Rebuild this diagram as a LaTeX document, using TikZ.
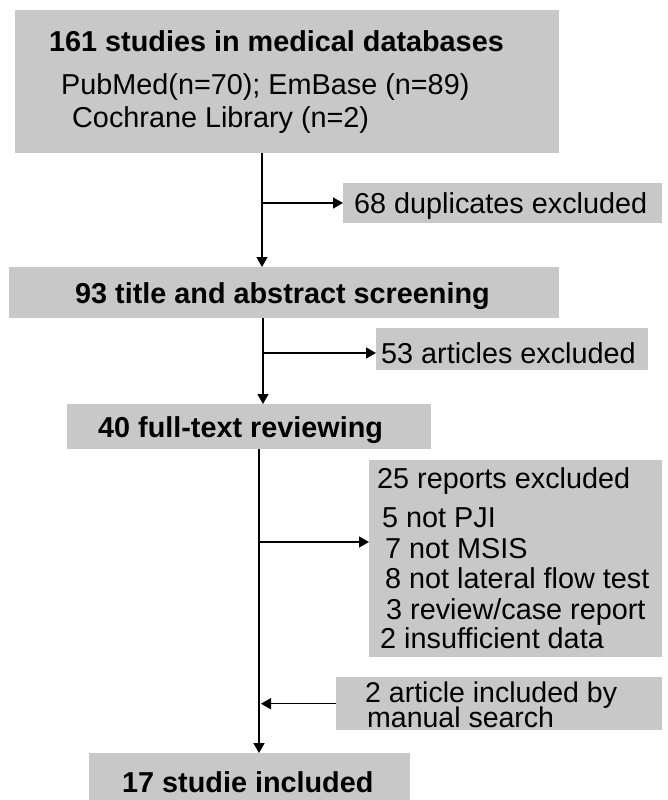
\documentclass[tikz,border=0pt]{standalone}
\usepackage{fontspec}
\setmainfont{Liberation Sans}
\usetikzlibrary{arrows.meta}
\definecolor{boxgray}{RGB}{200,200,200}
\tikzset{
  box/.style={fill=boxgray, draw=none, rectangle, inner sep=0pt, anchor=north west},
  txt/.style={inner sep=0pt, anchor=base west, font=\fontsize{28.8}{34}\selectfont},
  btxt/.style={txt, font=\fontsize{28.8}{34}\selectfont\bfseries},
  tight/.style={txt, font=\fontsize{28.5}{25}\selectfont, text height=19pt, text depth=4pt},
  arr/.style={line width=1.5pt, -{Triangle[length=10pt,width=11pt]}},
  ln/.style={line width=1.5pt}
}
\begin{document}
\begin{tikzpicture}[x=1pt,y=-1pt]
\useasboundingbox (0,0) rectangle (668,800);
% boxes
\node[box, minimum width=544pt, minimum height=143pt] (b1) at (15,10) {};
\node[box, minimum width=319pt, minimum height=40pt] (dup) at (343,183) {};
\node[box, minimum width=550pt, minimum height=51pt] (b2) at (9,267) {};
\node[box, minimum width=272pt, minimum height=42pt] (art) at (376,328) {};
\node[box, minimum width=364pt, minimum height=45pt] (b3) at (67,404) {};
\node[box, minimum width=293pt, minimum height=197pt] (rep) at (369,460) {};
\node[box, minimum width=326pt, minimum height=53pt] (man) at (336,677) {};
\node[box, minimum width=321pt, minimum height=50pt] (b4) at (89,753) {};
% texts
\node[btxt] (t1a) at (49,52) {161 studies in medical databases};
\node[txt] (t1b) at (61,94) {PubMed(n=70); EmBase (n=89)};
\node[txt] (t1c) at (72,127) {Cochrane Library (n=2)};
\node[txt] (tdup) at (354,213) {68 duplicates excluded};
\node[btxt] (t2) at (75,303) {93 title and abstract screening};
\node[txt] (tart) at (381,363) {53 articles excluded};
\node[btxt] (t3) at (98,437) {40 full-text reviewing};
\node[txt] (tr1) at (377,488) {25 reports excluded};
\node[txt] (tr2) at (382,527) {5 not PJI};
\node[txt] (tr3) at (385,558) {7 not MSIS};
\node[txt] (tr4) at (385,588) {8 not lateral flow test};
\node[txt] (tr5) at (386,619) {3 review/case report};
\node[txt] (tr6) at (380,648) {2 insufficient data};
\node[tight] (tm1) at (365,702) {2 article included by};
\node[tight, text depth=2pt] (tm2) at (367,727) {manual search};
\node[btxt] (t4) at (122,792) {17 studie included};
% connector columns and branch points
\coordinate (c1) at (262,203);
\coordinate (c2) at (263,353);
\coordinate (c3) at (259,542);
% connectors
\draw[arr] (b1.south -| c1) -- (b2.north -| c1);
\draw[arr] (c1) -- (c1 -| dup.west);
\draw[arr] (b2.south -| c2) -- (b3.north -| c2);
\draw[arr] (c2) -- (c2 -| art.west);
\draw[arr] (b3.south -| c3) -- (b4.north -| c3);
\draw[arr] (c3) -- (c3 -| rep.west);
\draw[arr] (man.west) -- ([xshift=2pt]man.west -| c3);
\end{tikzpicture}
\end{document}
